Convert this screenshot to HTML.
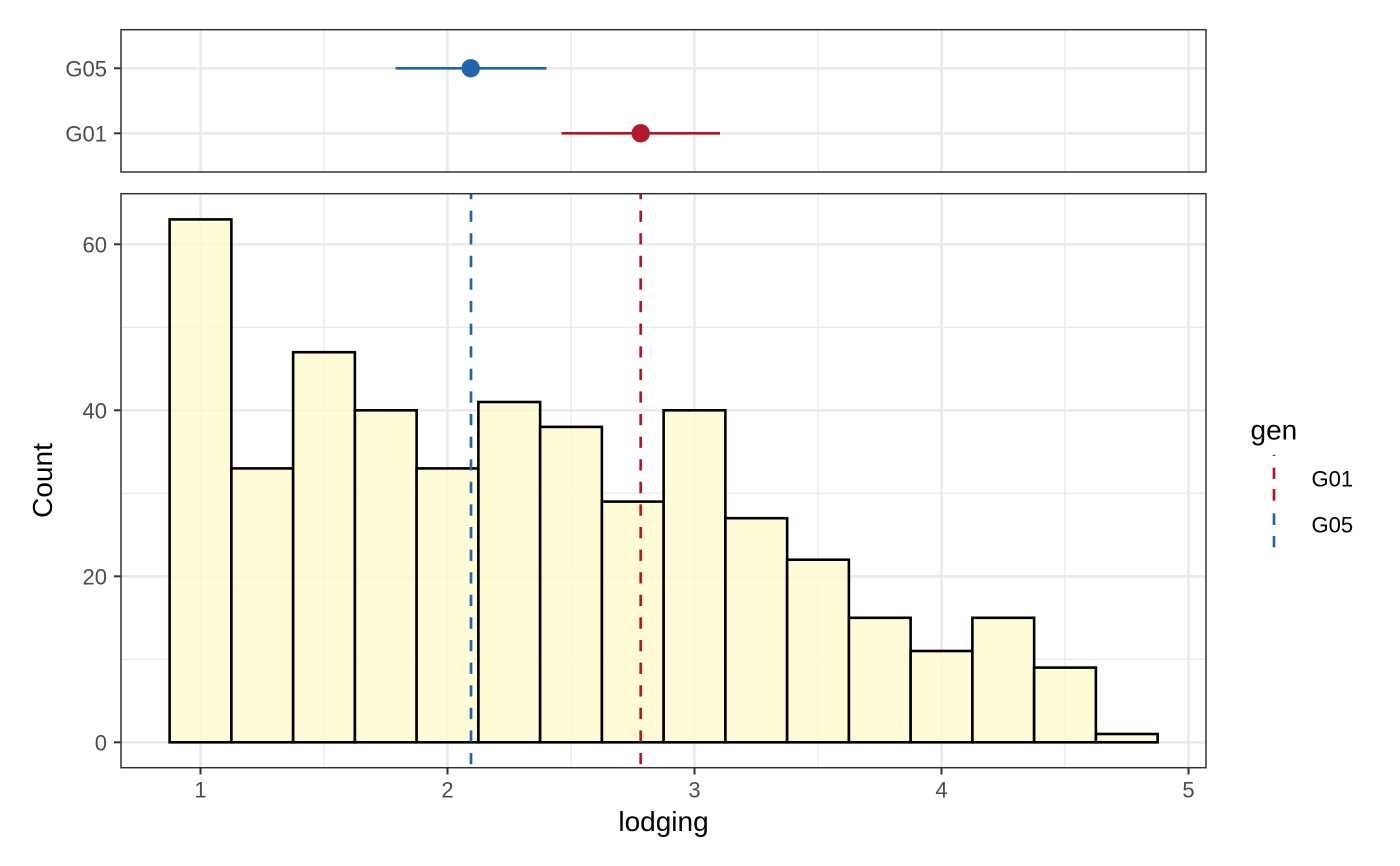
<!DOCTYPE html>
<html>
<head>
<meta charset="utf-8">
<style>
  html, body { margin: 0; padding: 0; background: #ffffff; }
  svg { display: block; font-family: "Liberation Sans", Arial, sans-serif; }
</style>
</head>
<body>
<svg width="1400" height="866" viewBox="0 0 1400 866" xmlns="http://www.w3.org/2000/svg">
  <defs>
    <clipPath id="mainclip"><rect x="121" y="193.7" width="1085" height="574"/></clipPath>
    <clipPath id="topclip"><rect x="121" y="29.7" width="1085" height="142.3"/></clipPath>
  </defs>
  <rect x="0" y="0" width="1400" height="866" fill="#ffffff"/>

  <!-- ================= TOP PANEL ================= -->
  <g clip-path="url(#topclip)">
    <!-- minor vertical grid -->
    <g stroke="#EBEBEB" stroke-width="1.4">
      <line x1="324" y1="29.7" x2="324" y2="172"/>
      <line x1="571" y1="29.7" x2="571" y2="172"/>
      <line x1="818" y1="29.7" x2="818" y2="172"/>
      <line x1="1065" y1="29.7" x2="1065" y2="172"/>
    </g>
    <!-- major grid -->
    <g stroke="#EBEBEB" stroke-width="2.6">
      <line x1="200.5" y1="29.7" x2="200.5" y2="172"/>
      <line x1="447.5" y1="29.7" x2="447.5" y2="172"/>
      <line x1="694.5" y1="29.7" x2="694.5" y2="172"/>
      <line x1="941.5" y1="29.7" x2="941.5" y2="172"/>
      <line x1="1188.5" y1="29.7" x2="1188.5" y2="172"/>
      <line x1="121" y1="68.3" x2="1206" y2="68.3"/>
      <line x1="121" y1="133.3" x2="1206" y2="133.3"/>
    </g>
    <!-- error bars + points -->
    <line x1="395.5" y1="68.3" x2="546.5" y2="68.3" stroke="#2166AC" stroke-width="2.6"/>
    <circle cx="470.7" cy="68.3" r="9.2" fill="#2166AC"/>
    <line x1="561.5" y1="133.3" x2="720" y2="133.3" stroke="#B2182B" stroke-width="2.6"/>
    <circle cx="640.7" cy="133.3" r="9.2" fill="#B2182B"/>
  </g>
  <rect x="121" y="29.7" width="1085" height="142.3" fill="none" stroke="#333333" stroke-width="1.5"/>
  <!-- top y ticks -->
  <g stroke="#333333" stroke-width="2">
    <line x1="114" y1="68.3" x2="121" y2="68.3"/>
    <line x1="114" y1="133.3" x2="121" y2="133.3"/>
  </g>
  <g fill="#4D4D4D" font-size="22" text-anchor="end">
    <text x="107" y="76.3">G05</text>
    <text x="107" y="141.3">G01</text>
  </g>

  <!-- ================= MAIN PANEL ================= -->
  <g clip-path="url(#mainclip)">
    <!-- minor grid -->
    <g stroke="#EBEBEB" stroke-width="1.4">
      <line x1="324" y1="193.7" x2="324" y2="767.7"/>
      <line x1="571" y1="193.7" x2="571" y2="767.7"/>
      <line x1="818" y1="193.7" x2="818" y2="767.7"/>
      <line x1="1065" y1="193.7" x2="1065" y2="767.7"/>
      <line x1="121" y1="659.3" x2="1206" y2="659.3"/>
      <line x1="121" y1="493.3" x2="1206" y2="493.3"/>
      <line x1="121" y1="327.3" x2="1206" y2="327.3"/>
    </g>
    <!-- major grid -->
    <g stroke="#EBEBEB" stroke-width="2.6">
      <line x1="200.5" y1="193.7" x2="200.5" y2="767.7"/>
      <line x1="447.5" y1="193.7" x2="447.5" y2="767.7"/>
      <line x1="694.5" y1="193.7" x2="694.5" y2="767.7"/>
      <line x1="941.5" y1="193.7" x2="941.5" y2="767.7"/>
      <line x1="1188.5" y1="193.7" x2="1188.5" y2="767.7"/>
      <line x1="121" y1="742.3" x2="1206" y2="742.3"/>
      <line x1="121" y1="576.3" x2="1206" y2="576.3"/>
      <line x1="121" y1="410.3" x2="1206" y2="410.3"/>
      <line x1="121" y1="244.3" x2="1206" y2="244.3"/>
    </g>
    <!-- bars -->
    <g fill="#FFFACD" fill-opacity="0.8" stroke="#000000" stroke-width="2.6">
      <rect x="169.63" y="219.4" width="61.75" height="522.9"/>
      <rect x="231.38" y="468.4" width="61.75" height="273.9"/>
      <rect x="293.13" y="352.2" width="61.75" height="390.1"/>
      <rect x="354.88" y="410.3" width="61.75" height="332.0"/>
      <rect x="416.63" y="468.4" width="61.75" height="273.9"/>
      <rect x="478.38" y="402.0" width="61.75" height="340.3"/>
      <rect x="540.13" y="426.9" width="61.75" height="315.4"/>
      <rect x="601.88" y="501.6" width="61.75" height="240.7"/>
      <rect x="663.63" y="410.3" width="61.75" height="332.0"/>
      <rect x="725.38" y="518.2" width="61.75" height="224.1"/>
      <rect x="787.13" y="559.7" width="61.75" height="182.6"/>
      <rect x="848.88" y="617.8" width="61.75" height="124.5"/>
      <rect x="910.63" y="651.0" width="61.75" height="91.3"/>
      <rect x="972.38" y="617.8" width="61.75" height="124.5"/>
      <rect x="1034.13" y="667.6" width="61.75" height="74.7"/>
      <rect x="1095.88" y="734.0" width="61.75" height="8.3"/>
    </g>
    <!-- vlines -->
    <line x1="471" y1="193.7" x2="471" y2="767.7" stroke="#2166AC" stroke-width="2.7" stroke-dasharray="11.3 11.3" stroke-dashoffset="5.7"/>
    <line x1="640.7" y1="193.7" x2="640.7" y2="767.7" stroke="#B2182B" stroke-width="2.7" stroke-dasharray="11.3 11.3" stroke-dashoffset="5.7"/>
  </g>
  <rect x="121" y="193.7" width="1085" height="574" fill="none" stroke="#333333" stroke-width="1.5"/>

  <!-- main y ticks -->
  <g stroke="#333333" stroke-width="2">
    <line x1="114" y1="742.3" x2="121" y2="742.3"/>
    <line x1="114" y1="576.3" x2="121" y2="576.3"/>
    <line x1="114" y1="410.3" x2="121" y2="410.3"/>
    <line x1="114" y1="244.3" x2="121" y2="244.3"/>
  </g>
  <g fill="#4D4D4D" font-size="22" text-anchor="end">
    <text x="107" y="750.3">0</text>
    <text x="107" y="584.3">20</text>
    <text x="107" y="418.3">40</text>
    <text x="107" y="252.3">60</text>
  </g>

  <!-- main x ticks -->
  <g stroke="#333333" stroke-width="2">
    <line x1="200.5" y1="767.7" x2="200.5" y2="774.5"/>
    <line x1="447.5" y1="767.7" x2="447.5" y2="774.5"/>
    <line x1="694.5" y1="767.7" x2="694.5" y2="774.5"/>
    <line x1="941.5" y1="767.7" x2="941.5" y2="774.5"/>
    <line x1="1188.5" y1="767.7" x2="1188.5" y2="774.5"/>
  </g>
  <g fill="#4D4D4D" font-size="22" text-anchor="middle">
    <text x="200.5" y="797.5">1</text>
    <text x="447.5" y="797.5">2</text>
    <text x="694.5" y="797.5">3</text>
    <text x="941.5" y="797.5">4</text>
    <text x="1188.5" y="797.5">5</text>
  </g>

  <!-- axis titles -->
  <text x="663.5" y="831" font-size="28" text-anchor="middle" fill="#000000">lodging</text>
  <text x="52" y="480.5" font-size="28" text-anchor="middle" fill="#000000" transform="rotate(-90 52 480.5)">Count</text>

  <!-- legend -->
  <text x="1250.5" y="439.3" font-size="28" fill="#000000">gen</text>
  <g stroke="#B2182B" stroke-width="2.7">
    <line x1="1274" y1="454.8" x2="1274" y2="456"/>
    <line x1="1274" y1="467.7" x2="1274" y2="479"/>
    <line x1="1274" y1="489" x2="1274" y2="500.7"/>
  </g>
  <g stroke="#2166AC" stroke-width="2.7">
    <line x1="1274" y1="513.3" x2="1274" y2="525"/>
    <line x1="1274" y1="536" x2="1274" y2="547.3"/>
  </g>
  <g fill="#000000" font-size="22">
    <text x="1311.5" y="486.7">G01</text>
    <text x="1311.5" y="532.7">G05</text>
  </g>
</svg>
</body>
</html>
